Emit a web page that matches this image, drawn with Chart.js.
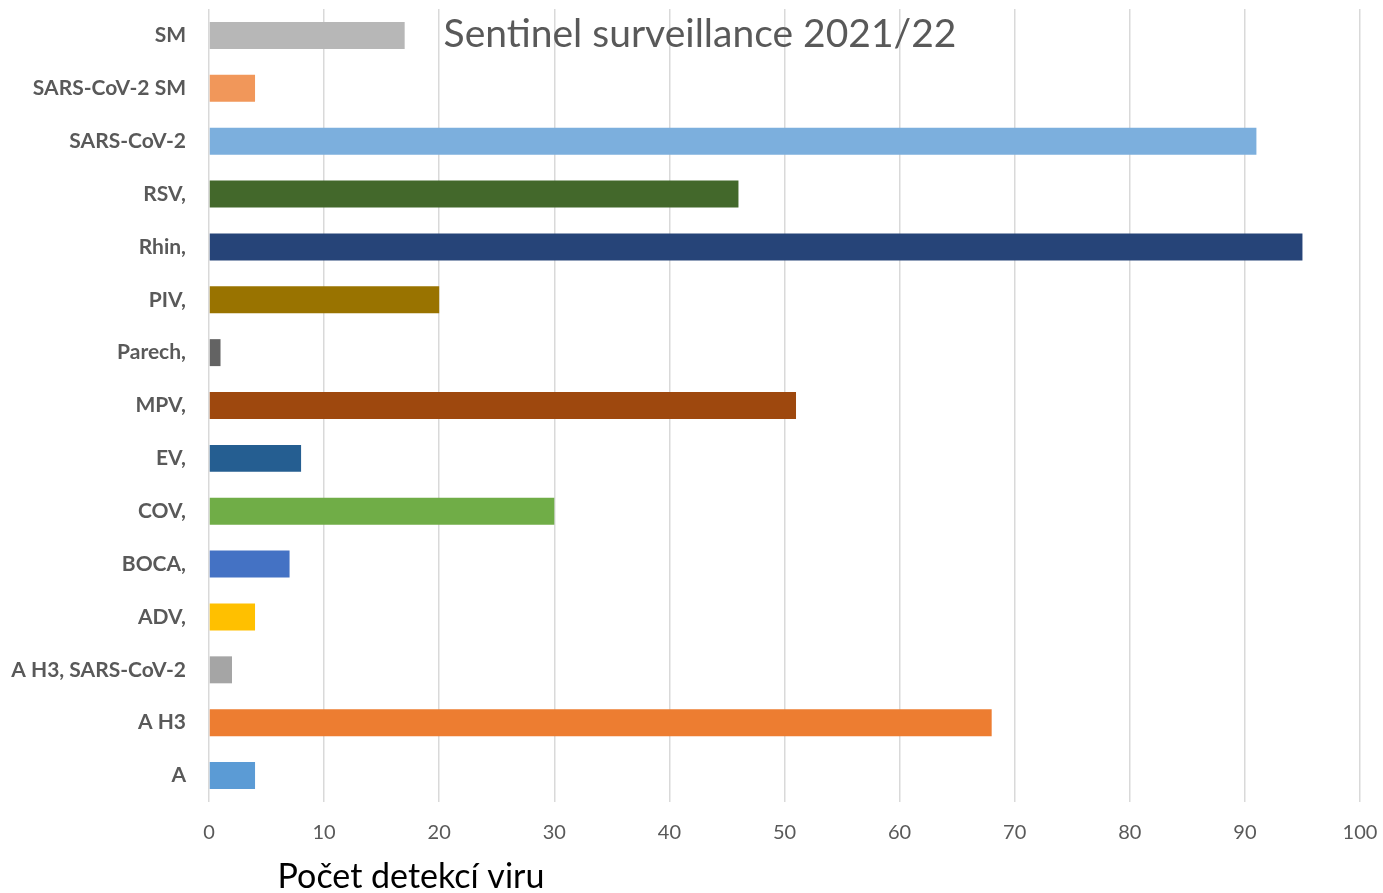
<!DOCTYPE html>
<html lang="cs">
  <head>
    <meta charset="UTF-8" />
    <title>Sentinel surveillance 2021/22</title>
    <script src="https://cdn.jsdelivr.net/npm/chart.js@4"></script>
    <style>
      html, body { margin: 0; padding: 0; background: #ffffff; }
      #wrap { width: 1383px; height: 893px; position: relative; }
    </style>
  </head>
  <body>
    <div id="wrap"><canvas id="myChart"></canvas></div>
    <script>
      // kategorie (shora dolů)
      var categories = [
        "SM", "SARS-CoV-2 SM", "SARS-CoV-2", "RSV,", "Rhin,", "PIV,", "Parech,",
        "MPV,", "EV,", "COV,", "BOCA,", "ADV,", "A H3, SARS-CoV-2", "A H3", "A"
      ];
      // počet detekcí
      var detections = [17, 4, 91, 46, 95, 20, 1, 51, 8, 30, 7, 4, 2, 68, 4];
      var barColors = [
        "#B7B7B7", "#F1975A", "#7CAFDD", "#43682B", "#264478", "#997300", "#636363",
        "#9E480E", "#255E91", "#70AD47", "#4472C4", "#FFC000", "#A5A5A5", "#ED7D31", "#5B9BD5"
      ];
      var xTicks = [0, 10, 20, 30, 40, 50, 60, 70, 80, 90, 100];
      var chartTitle = "Sentinel surveillance 2021/22";
      var axisTitle = "Počet detekcí viru";

      // titulky kreslené ručně (jsou uvnitř grafu)
      var textPlugin = {
        id: "texts",
        afterDraw: function (chart) {
          var ctx = chart.ctx;
          ctx.save();
          ctx.fillStyle = "#595959";
          ctx.font = "39px Lato";
          ctx.textAlign = "center";
          ctx.textBaseline = "middle";
          ctx.fillText(chartTitle, 700, 34);
          ctx.fillStyle = "#000000";
          ctx.font = "34px Lato";
          ctx.fillText(axisTitle, 411, 877);
          ctx.restore();
        },
      };

      var ctx = document.getElementById("myChart").getContext("2d");
      new Chart(ctx, {
        type: "bar",
        data: {
          labels: categories,
          datasets: [
            {
              data: detections,
              backgroundColor: barColors,
              borderWidth: 0,
              barPercentage: 0.51,
              categoryPercentage: 1,
            },
          ],
        },
        options: {
          indexAxis: "y",
          responsive: true,
          maintainAspectRatio: false,
          animation: false,
          layout: { padding: { top: 9, right: 23, left: 0, bottom: 0 } },
          plugins: {
            legend: { display: false },
            tooltip: { enabled: false },
          },
          scales: {
            x: {
              min: 0,
              max: 100,
              afterBuildTicks: function (axis) {
                axis.ticks = xTicks.map(function (v) { return { value: v }; });
              },
              afterFit: function (axis) {
                axis.height = 91;
                axis.paddingLeft = 0;
                axis.paddingRight = 0;
              },
              grid: { color: "#d9d9d9", lineWidth: 1.5, drawTicks: false },
              border: { display: false },
              ticks: {
                color: "#595959",
                font: { family: "Lato", size: 20 },
                padding: 19,
              },
            },
            y: {
              afterFit: function (axis) {
                axis.width = 209;
                axis.paddingTop = 0;
                axis.paddingBottom = 0;
              },
              grid: { display: false, drawTicks: false },
              border: { display: false },
              ticks: {
                color: "#595959",
                font: { family: "Lato", size: 21, weight: "bold" },
                padding: 23,
              },
            },
          },
        },
        plugins: [textPlugin],
      });
    </script>
  </body>
</html>
